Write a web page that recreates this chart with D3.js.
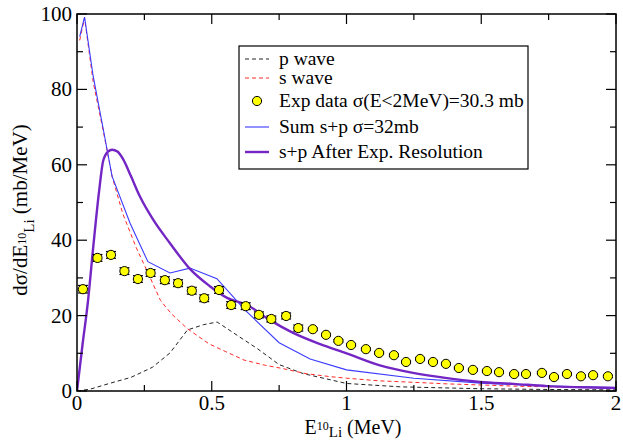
<!DOCTYPE html>
<html>
<head>
<meta charset="utf-8">
<script src="https://cdn.jsdelivr.net/npm/d3@7"></script>
<style>
  html, body { margin: 0; padding: 0; background: #fff; }
  svg text, svg tspan { font-family: "Liberation Serif", "DejaVu Serif", "Times New Roman", Times, serif; }
</style>
</head>
<body>
<svg id="chart" width="623" height="444"></svg>
<script>
// Measured spectrum (E in MeV, dσ/dE in mb/MeV)
const expE = [0.022, 0.076, 0.126, 0.176, 0.226, 0.273, 0.326, 0.375, 0.426, 0.472,
              0.527, 0.572, 0.626, 0.675, 0.721, 0.776, 0.821, 0.875, 0.924, 0.970,
              1.017, 1.072, 1.121, 1.176, 1.221, 1.273, 1.321, 1.369, 1.417, 1.469,
              1.521, 1.566, 1.622, 1.666, 1.725, 1.770, 1.818, 1.870, 1.915, 1.970];
const expY = [27.0, 35.3, 36.1, 31.8, 29.7, 31.3, 29.4, 28.6, 26.6, 24.6,
              26.8, 22.8, 22.5, 20.2, 19.1, 19.9, 16.7, 16.4, 14.9, 13.3,
              12.2, 11.1, 10.1, 9.5, 7.7, 8.5, 7.7, 7.2, 6.1, 5.6,
              5.3, 5.0, 4.5, 4.5, 4.8, 3.7, 4.5, 3.9, 4.2, 3.9];
const expErr = [1.0, 0.9, 0.9, 0.9, 0.9, 0.9, 0.9, 0.9, 0.9, 0.9,
                0.9, 0.9, 0.9, 0.8, 0.8, 0.8, 0.8, 0.3, 0.3, 0.3,
                0.3, 0.3, 0.3, 0.3, 0.3, 0.3, 0.3, 0.3, 0.3, 0.3,
                0.3, 0.3, 0.3, 0.3, 0.3, 0.3, 0.3, 0.3, 0.3, 0.3];

// p-wave contribution
const pE = [0.0, 0.05, 0.12, 0.2, 0.28, 0.345, 0.41, 0.47, 0.52, 0.6, 0.67, 0.75, 0.84, 1.0, 1.2, 1.5, 1.75, 2.0];
const pY = [0.0, 0.5, 2.0, 3.6, 6.3, 10.1, 16.2, 17.6, 18.3, 14.5, 11.2, 7.0, 4.6, 2.0, 1.1, 0.6, 0.4, 0.3];

// s-wave contribution
const sE = [0.01, 0.028, 0.06, 0.1, 0.13, 0.17, 0.22, 0.27, 0.31, 0.35, 0.41, 0.49, 0.55, 0.62, 0.7, 0.76, 0.85, 0.94, 1.0, 1.12, 1.25, 1.37, 1.5, 1.62, 1.75, 2.0];
const sY = [93, 99, 82, 68, 57, 47, 38, 30.3, 24, 20.5, 16.5, 12.5, 10.5, 8.2, 6.8, 6.0, 4.6, 3.8, 3.4, 2.7, 2.3, 1.9, 1.6, 1.3, 1.1, 0.8];

// s + p sum
const sumE = [0.01, 0.028, 0.06, 0.1, 0.13, 0.197, 0.263, 0.345, 0.419, 0.519, 0.623, 0.75, 0.865, 1.0, 1.25, 1.5, 1.75, 2.0];
const sumY = [94, 99.2, 83.5, 68.5, 57, 44.5, 34.3, 31.3, 32.6, 29.8, 21.5, 12.8, 8.5, 5.6, 3.4, 2.1, 1.3, 0.9];

// s + p folded with the experimental resolution
const resE = [0.0, 0.02, 0.041, 0.06, 0.082, 0.097, 0.115, 0.13, 0.15, 0.171, 0.2, 0.234, 0.282, 0.345, 0.419,
              0.493, 0.557, 0.631, 0.716, 0.8, 0.9, 1.0, 1.124, 1.247, 1.373, 1.495, 1.62, 1.744, 1.87, 2.0];
const resY = [0.0, 12, 24, 38, 53, 61, 63.5, 64, 63.5, 61.5, 57, 51.5, 45.5, 39.2, 32.4,
              27.8, 24.7, 22.8, 18.8, 15.5, 12.5, 10.0, 6.8, 4.8, 3.4, 2.4, 1.9, 1.3, 1.0, 0.8];

const xTicks = [0, 0.5, 1, 1.5, 2];
const xTickLabels = ["0", "0.5", "1", "1.5", "2"];
const yTicks = [0, 20, 40, 60, 80, 100];
const legendLabels = ["p wave", "s wave", "Exp data σ(E<2MeV)=30.3 mb", "Sum s+p σ=32mb", "s+p After Exp. Resolution"];

const svg = d3.select("#chart");
const m = { left: 77, right: 616, top: 14, bottom: 391 };

const x = d3.scaleLinear().domain([0, 2]).range([m.left, m.right]);
const y = d3.scaleLinear().domain([0, 100]).range([m.bottom, m.top]);

const COL = { p: "#222222", s: "#ff2a2a", sum: "#3a3aff", res: "#7426c4" };

svg.append("clipPath").attr("id", "plotclip")
  .append("rect").attr("x", m.left).attr("y", m.top)
  .attr("width", m.right - m.left).attr("height", m.bottom - m.top);

const plot = svg.append("g").attr("clip-path", "url(#plotclip)");

const zip = (a, b) => a.map((v, i) => [v, b[i]]);
const lin = d3.line().x(d => x(d[0])).y(d => y(d[1]));
const smooth = d3.line().x(d => x(d[0])).y(d => y(d[1])).curve(d3.curveMonotoneX);

plot.append("path").attr("d", lin(zip(pE, pY)))
  .attr("fill", "none").attr("stroke", COL.p).attr("stroke-width", 1)
  .attr("stroke-dasharray", "4,3");
plot.append("path").attr("d", lin(zip(sE, sY)))
  .attr("fill", "none").attr("stroke", COL.s).attr("stroke-width", 1)
  .attr("stroke-dasharray", "4,3");
plot.append("path").attr("d", lin(zip(sumE, sumY)))
  .attr("fill", "none").attr("stroke", COL.sum).attr("stroke-width", 1.1);
plot.append("path").attr("d", smooth(zip(resE, resY)))
  .attr("fill", "none").attr("stroke", COL.res).attr("stroke-width", 2.4);

// Data points with error bars
const pts = plot.append("g").selectAll("g").data(expE.map((e, i) => ({ e, v: expY[i], err: expErr[i] })))
  .join("g");
pts.append("line")
  .attr("x1", d => x(d.e)).attr("x2", d => x(d.e))
  .attr("y1", d => y(d.v - d.err)).attr("y2", d => y(d.v + d.err))
  .attr("stroke", "#000").attr("stroke-width", 1);
[-1, 1].forEach(sg => {
  pts.append("line")
    .attr("x1", d => x(d.e) - 5).attr("x2", d => x(d.e) + 5)
    .attr("y1", d => y(d.v + sg * d.err)).attr("y2", d => y(d.v + sg * d.err))
    .attr("stroke", "#000").attr("stroke-width", 1.2);
});
pts.append("circle")
  .attr("cx", d => x(d.e)).attr("cy", d => y(d.v)).attr("r", 4.6)
  .attr("fill", "#ffff00").attr("stroke", "#000").attr("stroke-width", 1);

// Frame
svg.append("rect").attr("x", m.left).attr("y", m.top)
  .attr("width", m.right - m.left).attr("height", m.bottom - m.top)
  .attr("fill", "none").attr("stroke", "#000").attr("stroke-width", 1.5);

// Inward ticks on all four sides
const tickG = svg.append("g").attr("stroke", "#000").attr("stroke-width", 1.2);
const xMinor = d3.range(0.25, 2, 0.5);
const yMinor = d3.range(10, 100, 20);
function xTick(v, len) {
  tickG.append("line").attr("x1", x(v)).attr("x2", x(v)).attr("y1", m.bottom).attr("y2", m.bottom - len);
  tickG.append("line").attr("x1", x(v)).attr("x2", x(v)).attr("y1", m.top).attr("y2", m.top + len);
}
function yTick(v, len) {
  tickG.append("line").attr("y1", y(v)).attr("y2", y(v)).attr("x1", m.left).attr("x2", m.left + len);
  tickG.append("line").attr("y1", y(v)).attr("y2", y(v)).attr("x1", m.right).attr("x2", m.right - len);
}
xTicks.forEach(v => xTick(v, 10));
xMinor.forEach(v => xTick(v, 6));
yTicks.forEach(v => yTick(v, 10));
yMinor.forEach(v => yTick(v, 6));

// Tick labels
const fs = 21;
svg.append("g").selectAll("text").data(xTicks).join("text")
  .attr("x", d => x(d)).attr("y", 410)
  .attr("text-anchor", "middle").attr("font-size", fs)
  .text((d, i) => xTickLabels[i]);
svg.append("g").selectAll("text").data(yTicks).join("text")
  .attr("x", 72).attr("y", d => y(d) + 7)
  .attr("text-anchor", "end").attr("font-size", fs)
  .text(d => d);

// Axis titles
const xt = svg.append("text").attr("x", 353).attr("y", 434)
  .attr("text-anchor", "middle").attr("font-size", 20);
xt.append("tspan").text("E");
xt.append("tspan").attr("font-size", 12).attr("dy", -4).text("10");
xt.append("tspan").attr("font-size", 15).attr("dy", 7).text("Li");
xt.append("tspan").attr("dy", -3).text(" (MeV)");

const yt = svg.append("text").attr("transform", "translate(27,210) rotate(-90)")
  .attr("text-anchor", "middle").attr("font-size", fs);
yt.append("tspan").text("dσ/dE");
yt.append("tspan").attr("font-size", 12).attr("dy", -1).text("10");
yt.append("tspan").attr("font-size", 15).attr("dy", 8).text("Li");
yt.append("tspan").attr("dy", -7).text(" (mb/MeV)");

// Legend
const lg = svg.append("g");
lg.append("rect").attr("x", 239).attr("y", 46).attr("width", 289).attr("height", 123)
  .attr("fill", "#fff").attr("stroke", "#000").attr("stroke-width", 1.2);
const rows = [59, 78, 101, 127, 152];
const legendStyles = [
  { type: "line", color: COL.p, dash: "4,3", w: 1 },
  { type: "line", color: COL.s, dash: "4,3", w: 1 },
  { type: "dot" },
  { type: "line", color: COL.sum, dash: null, w: 1.1 },
  { type: "line", color: COL.res, dash: null, w: 2.4 }
];
legendLabels.forEach((lab, i) => {
  const cy = rows[i];
  const st = legendStyles[i];
  if (st.type === "line") {
    lg.append("line").attr("x1", 245).attr("x2", 269).attr("y1", cy).attr("y2", cy)
      .attr("stroke", st.color).attr("stroke-width", st.w)
      .attr("stroke-dasharray", st.dash);
  } else {
    lg.append("circle").attr("cx", 257).attr("cy", cy).attr("r", 4.6)
      .attr("fill", "#ffff00").attr("stroke", "#000").attr("stroke-width", 1);
  }
  lg.append("text").attr("x", 279).attr("y", cy + 6).attr("font-size", 19.5).text(lab);
});
</script>
</body>
</html>
